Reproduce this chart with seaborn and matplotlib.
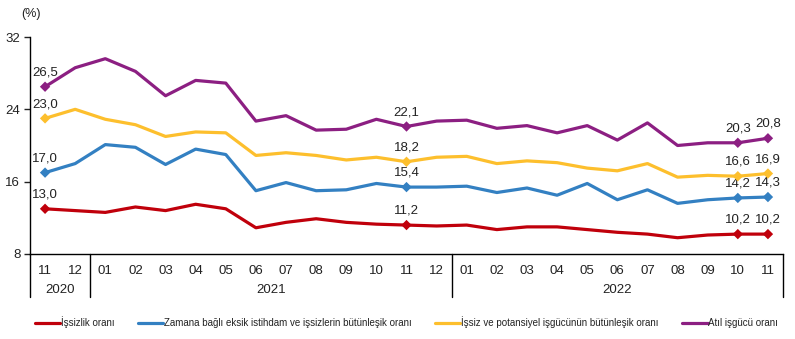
import matplotlib
matplotlib.use("Agg")
import matplotlib.pyplot as plt
import matplotlib.transforms as mtransforms
import seaborn as sns
import pandas as pd
import numpy as np

months = ["11", "12", "01", "02", "03", "04", "05", "06", "07", "08", "09", "10", "11", "12",
          "01", "02", "03", "04", "05", "06", "07", "08", "09", "10", "11"]
years = ["2020", "2021", "2022"]

issizlik = [13.0, 12.8, 12.6, 13.2, 12.8, 13.5, 13.0, 10.9, 11.5, 11.9, 11.5, 11.3, 11.2, 11.1,
            11.2, 10.7, 11.0, 11.0, 10.7, 10.4, 10.2, 9.8, 10.1, 10.2, 10.2]
zamana = [17.0, 18.0, 20.1, 19.8, 17.9, 19.6, 19.0, 15.0, 15.9, 15.0, 15.1, 15.8, 15.4, 15.4,
          15.5, 14.8, 15.3, 14.5, 15.8, 14.0, 15.1, 13.6, 14.0, 14.2, 14.3]
potansiyel = [23.0, 24.0, 22.9, 22.3, 21.0, 21.5, 21.4, 18.9, 19.2, 18.9, 18.4, 18.7, 18.2, 18.7,
              18.8, 18.0, 18.3, 18.1, 17.5, 17.2, 18.0, 16.5, 16.7, 16.6, 16.9]
atil = [26.5, 28.6, 29.6, 28.2, 25.5, 27.2, 26.9, 22.7, 23.3, 21.7, 21.8, 22.9, 22.1, 22.7,
        22.8, 21.9, 22.2, 21.4, 22.2, 20.6, 22.5, 20.0, 20.3, 20.3, 20.8]

series_names = ["İşsizlik oranı",
                "Zamana bağlı eksik istihdam ve işsizlerin bütünleşik oranı",
                "İşsiz ve potansiyel işgücünün bütünleşik oranı",
                "Atıl işgücü oranı"]
colors = ["#C0000B", "#3380C2", "#FDBF2D", "#8C1F82"]
labeled_idx = [0, 12, 23, 24]

sns.set_theme(style="white")
plt.rcParams["font.family"] = ["Liberation Sans", "DejaVu Sans"]

rows = []
for name, vals in zip(series_names, [issizlik, zamana, potansiyel, atil]):
    for i, v in enumerate(vals):
        rows.append({"x": i, "value": v, "series": name})
df = pd.DataFrame(rows)

fig = plt.figure(figsize=(7.95, 3.39), dpi=100)
ax = fig.add_axes([30 / 795, (339 - 254) / 339, (783 - 30) / 795, (254 - 37) / 339])

palette = dict(zip(series_names, colors))
sns.lineplot(data=df, x="x", y="value", hue="series", palette=palette, ax=ax,
             linewidth=2.3, hue_order=series_names)
sub = df[df["x"].isin(labeled_idx)]
sns.scatterplot(data=sub, x="x", y="value", hue="series", palette=palette, ax=ax,
                marker="D", s=28, edgecolor="none", legend=False, hue_order=series_names, zorder=5)

for name, vals in zip(series_names, [issizlik, zamana, potansiyel, atil]):
    for i in labeled_idx:
        ax.annotate(f"{vals[i]:.1f}".replace(".", ","), (i, vals[i]), xytext=(0, 6),
                    textcoords="offset points", ha="center", va="bottom", fontsize=9.5,
                    color="#222222")

ax.set_xlim(-0.5, 24.5)
ax.set_ylim(8, 32)
ax.set_yticks([8, 16, 24, 32])
ax.set_xticks(range(len(months)))
ax.set_xticklabels(months)
ax.tick_params(axis="x", length=0, pad=8, labelsize=9.5, colors="#222222")
ax.tick_params(axis="y", length=4, width=1, direction="out", left=True, pad=3,
               labelsize=9.5, colors="#222222")
ax.set_xlabel("")
ax.set_ylabel("")
for s in ["top", "right"]:
    ax.spines[s].set_visible(False)
for s in ["left", "bottom"]:
    ax.spines[s].set_color("#000000")
    ax.spines[s].set_linewidth(1)

trans = mtransforms.blended_transform_factory(ax.transData, ax.transAxes)
for xs in [-0.5, 1.5, 13.5, 24.5]:
    ax.plot([xs, xs], [0, -0.2], transform=trans, color="black", lw=1, clip_on=False)
for xc, yr in zip([0.5, 7.5, 19.0], years):
    ax.text(xc, -0.165, yr, transform=trans, ha="center", va="center", fontsize=9.5,
            color="#222222")

fig.text(31 / 795, 1 - 14 / 339, "(%)", ha="center", va="center", fontsize=9, color="#222222")

handles, labels = ax.get_legend_handles_labels()
ax.get_legend().remove()
fig.legend(handles, labels, loc="center", bbox_to_anchor=(0.5 + 9 / 795, 1 - 322 / 339), ncol=4,
           frameon=False, fontsize=7, handlelength=2.6, handletextpad=0.1,
           columnspacing=2.4, labelcolor="#222222")

fig.savefig("out.png", dpi=100)
